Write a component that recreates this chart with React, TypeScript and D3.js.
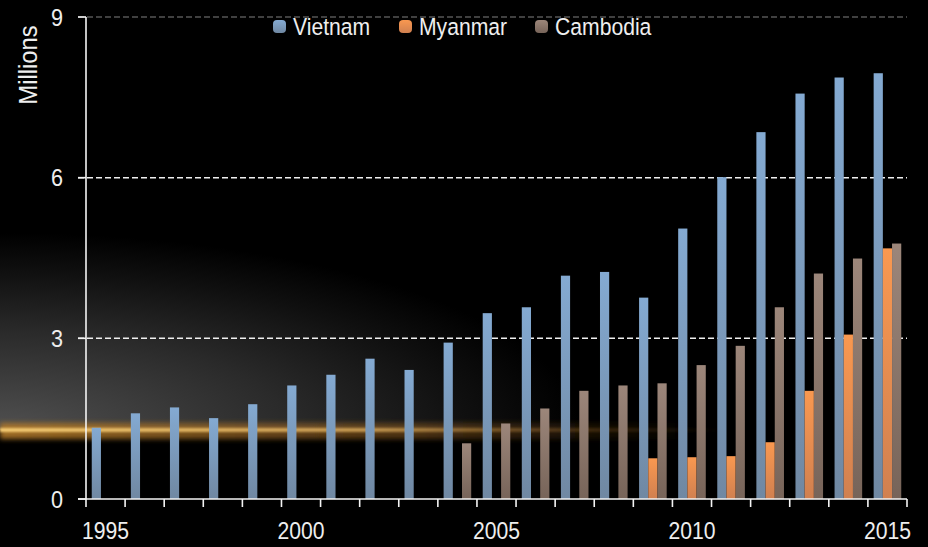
import React from "react";
import * as d3 from "d3";

const years: number[] = d3.range(1995, 2016);
const seriesNames = ["Vietnam", "Myanmar", "Cambodia"];
const vietnam: (number | null)[] = [1.33, 1.6, 1.71, 1.51, 1.77, 2.12, 2.32, 2.62, 2.41, 2.92, 3.47, 3.58, 4.17, 4.24, 3.76, 5.05, 6.01, 6.85, 7.57, 7.87, 7.95];
const myanmar: (number | null)[] = [null, null, null, null, null, null, null, null, null, null, null, null, null, null, 0.76, 0.78, 0.8, 1.06, 2.02, 3.07, 4.68];
const cambodia: (number | null)[] = [null, null, null, null, null, null, null, null, null, 1.04, 1.41, 1.69, 2.02, 2.12, 2.16, 2.5, 2.86, 3.58, 4.21, 4.49, 4.77];
const yTicks = [0, 3, 6, 9];
const xLabelYears = [1995, 2000, 2005, 2010, 2015];
const colors: Record<string, [string, string]> = {
  Vietnam: ["#84aad2", "#7088a2"],
  Myanmar: ["#f99850", "#d08050"],
  Cambodia: ["#9c867a", "#776459"],
};

const W = 928, H = 547;
const left = 86, right = 907, top = 17, bottom = 499;
const FONT = "'Liberation Sans', Arial, sans-serif";
const SX = 0.9;

function T({ x, y, anchor = "start", size, children, rotate = 0, dy }: any) {
  return (
    <text
      transform={`translate(${x},${y}) rotate(${rotate}) scale(${SX},1)`}
      textAnchor={anchor}
      fontSize={size}
      dy={dy}
      fill="#eeeeee"
    >
      {children}
    </text>
  );
}

export default function App() {
  const x0 = d3.scaleBand<number>().domain(years).range([left, right]).padding(0);
  const x1 = d3.scaleBand<string>().domain(seriesNames).range([0, x0.bandwidth()]).paddingInner(0).paddingOuter(0.625);
  const y = d3.scaleLinear().domain([0, 9]).range([bottom, top]);
  const data: Record<string, (number | null)[]> = { Vietnam: vietnam, Myanmar: myanmar, Cambodia: cambodia };

  const legendX: Record<string, number> = { Vietnam: 273, Myanmar: 399, Cambodia: 535 };

  return (
    <svg width={W} height={H} style={{ position: "absolute", left: 0, top: 0, display: "block", background: "#000" }} fontFamily={FONT}>
      <defs>
        <radialGradient id="glow" cx="0" cy="430" r="580" gradientUnits="userSpaceOnUse" gradientTransform="translate(0,430) scale(1,0.34) translate(0,-430)">
          <stop offset="0" stopColor="#505050" />
          <stop offset="0.5" stopColor="#2a2a2a" />
          <stop offset="0.8" stopColor="#101010" />
          <stop offset="1" stopColor="#000" />
        </radialGradient>
        <linearGradient id="streakFade" x1="0" x2={W} y1="0" y2="0" gradientUnits="userSpaceOnUse">
          <stop offset="0" stopColor="#f2c870" stopOpacity="1" />
          <stop offset="0.4" stopColor="#e0b060" stopOpacity="0.75" />
          <stop offset="0.6" stopColor="#a07030" stopOpacity="0.35" />
          <stop offset="0.78" stopColor="#805020" stopOpacity="0" />
        </linearGradient>
        <linearGradient id="streakGlow" x1="0" x2={W} y1="0" y2="0" gradientUnits="userSpaceOnUse">
          <stop offset="0" stopColor="#b07828" stopOpacity="0.9" />
          <stop offset="0.45" stopColor="#8a5a20" stopOpacity="0.55" />
          <stop offset="0.75" stopColor="#603a10" stopOpacity="0" />
        </linearGradient>
        <filter id="blur" x="-10%" y="-200%" width="120%" height="500%">
          <feGaussianBlur stdDeviation="2.5" />
        </filter>
        <filter id="blur1" x="-10%" y="-200%" width="120%" height="500%">
          <feGaussianBlur stdDeviation="0.8" />
        </filter>
        {seriesNames.map((s) => (
          <linearGradient key={s} id={`g-${s}`} x1="0" x2="0" y1="0" y2="1">
            <stop offset="0" stopColor={colors[s][0]} />
            <stop offset="1" stopColor={colors[s][1]} />
          </linearGradient>
        ))}
      </defs>
      <rect x={0} y={0} width={W} height={H} fill="#000" />
      {/* background glow */}
      <rect x={0} y={200} width={W} height={230} fill="url(#glow)" />
      <rect x={0} y={423} width={W} height={16} fill="url(#streakGlow)" filter="url(#blur)" />
      <rect x={0} y={428} width={W} height={4} fill="url(#streakFade)" filter="url(#blur1)" />

      {/* gridlines */}
      {yTicks.filter((t) => t > 0).map((t) => (
        <line key={t} x1={78} x2={right} y1={y(t)} y2={y(t)} stroke={t === 9 ? "#555" : "#f0f0f0"} strokeWidth={1.5} strokeDasharray="6,3" />
      ))}

      {/* bars */}
      {years.map((yr, i) => (
        <g key={yr} transform={`translate(${x0(yr)},0)`}>
          {seriesNames.map((s) => {
            const v = data[s][i];
            if (v == null) return null;
            return <rect key={s} x={x1(s)} y={y(v)} width={x1.bandwidth()} height={y(0) - y(v)} fill={`url(#g-${s})`} />;
          })}
        </g>
      ))}

      {/* axes */}
      <line x1={left} x2={left} y1={top} y2={bottom} stroke="#f4f4f4" strokeWidth={1.6} />
      <line x1={78} x2={right} y1={bottom} y2={bottom} stroke="#f4f4f4" strokeWidth={1.6} />
      {yTicks.map((t) => (
        <g key={t}>
          <line x1={78} x2={left} y1={y(t)} y2={y(t)} stroke="#f4f4f4" strokeWidth={1.6} />
          <T x={63} y={y(t)} dy="0.36em" anchor="end" size={24}>{t}</T>
        </g>
      ))}
      {[...years, 2016].map((yr, i) => {
        const xx = left + i * x0.step();
        return <line key={yr} x1={xx} x2={xx} y1={bottom} y2={bottom + 8} stroke="#f4f4f4" strokeWidth={1.6} />;
      })}
      {xLabelYears.map((yr) => (
        <T key={yr} x={(x0(yr) as number) + x0.bandwidth() / 2} y={539} anchor="middle" size={23.5}>{yr}</T>
      ))}
      <T x={37} y={65} rotate={-90} anchor="middle" size={26.5}>Millions</T>

      {/* legend */}
      {seriesNames.map((s) => (
        <g key={s}>
          <rect x={legendX[s]} y={20} width={13} height={13} rx={4} fill={`url(#g-${s})`} />
          <T x={legendX[s] + 20} y={35} size={23.5}>{s}</T>
        </g>
      ))}
    </svg>
  );
}
